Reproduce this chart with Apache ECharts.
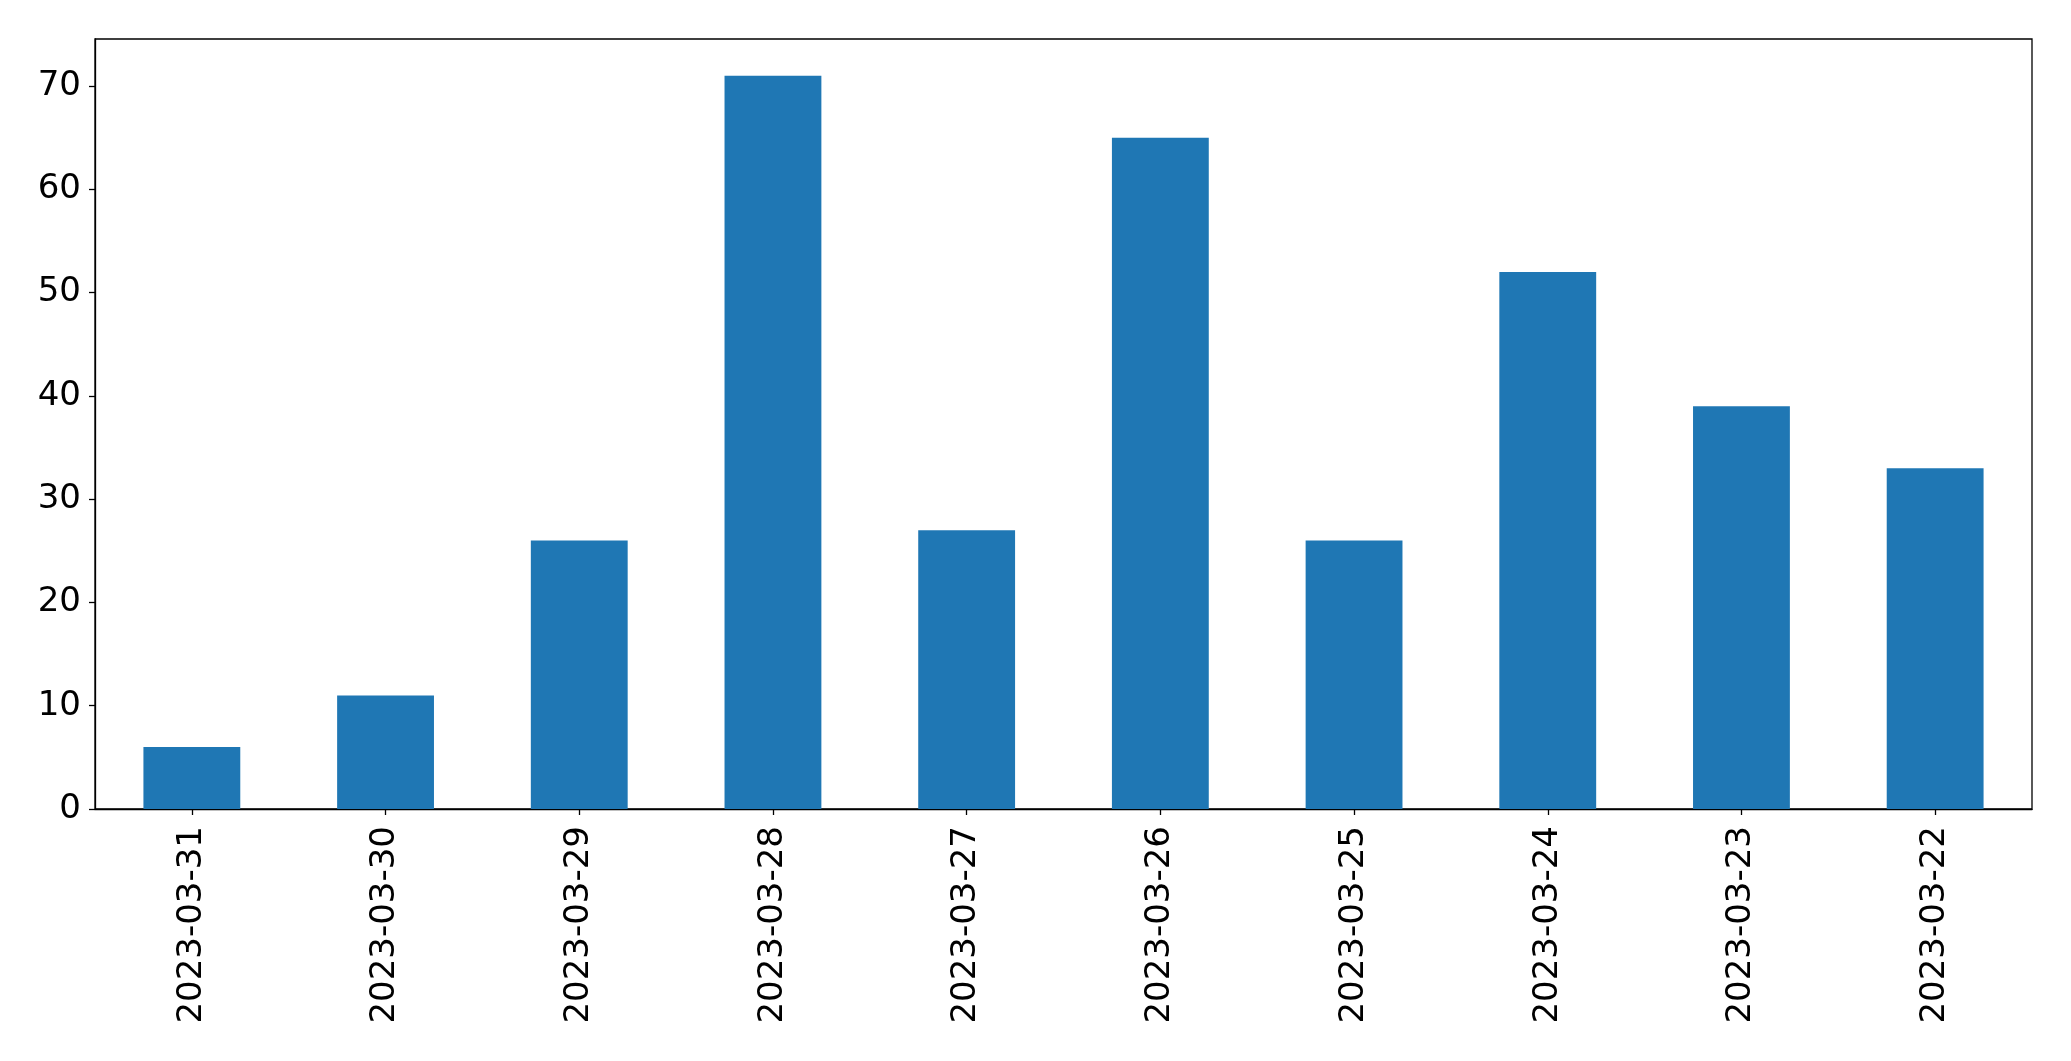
<!DOCTYPE html>
<html>
<head>
<meta charset="utf-8">
<script src="https://cdn.jsdelivr.net/npm/echarts@6/dist/echarts.min.js"></script>
<style>
html,body{margin:0;padding:0;background:#fff;}
#chart{width:2071px;height:1061px;}
</style>
</head>
<body>
<div id="chart"></div>
<script>
const categories = ['2023-03-31','2023-03-30','2023-03-29','2023-03-28','2023-03-27','2023-03-26','2023-03-25','2023-03-24','2023-03-23','2023-03-22'];
const values = [6, 11, 26, 71, 27, 65, 26, 52, 39, 33];
const yTicks = [0, 10, 20, 30, 40, 50, 60, 70];
const yMax = 74.55;

const font = 'DejaVu Sans';
const chart = echarts.init(document.getElementById('chart'), null, {renderer: 'canvas'});
chart.setOption({
  animation: false,
  backgroundColor: '#ffffff',
  grid: {
    left: 95, right: 39, top: 39, bottom: 252,
    show: true, borderColor: '#000', borderWidth: 1.3, backgroundColor: 'transparent'
  },
  xAxis: {
    type: 'category',
    data: categories,
    axisLine: {show: true, lineStyle: {color: '#000', width: 1.3}},
    axisTick: {show: true, alignWithLabel: true, length: 6, lineStyle: {color: '#000', width: 1.3}},
    axisLabel: {rotate: 90, margin: 17, fontFamily: font, fontSize: 34, color: '#000', interval: 0},
    splitLine: {show: false}
  },
  yAxis: {
    type: 'value',
    min: 0, max: yMax, interval: 10,
    axisLine: {show: true, lineStyle: {color: '#000', width: 1.3}},
    axisTick: {show: true, length: 6, lineStyle: {color: '#000', width: 1.3}, customValues: yTicks},
    axisLabel: {margin: 14, fontFamily: font, fontSize: 34, color: '#000', customValues: yTicks},
    splitLine: {show: false}
  },
  series: [{
    type: 'bar',
    data: values,
    barWidth: '50%',
    itemStyle: {color: '#1f77b4'}
  }]
});
</script>
</body>
</html>
